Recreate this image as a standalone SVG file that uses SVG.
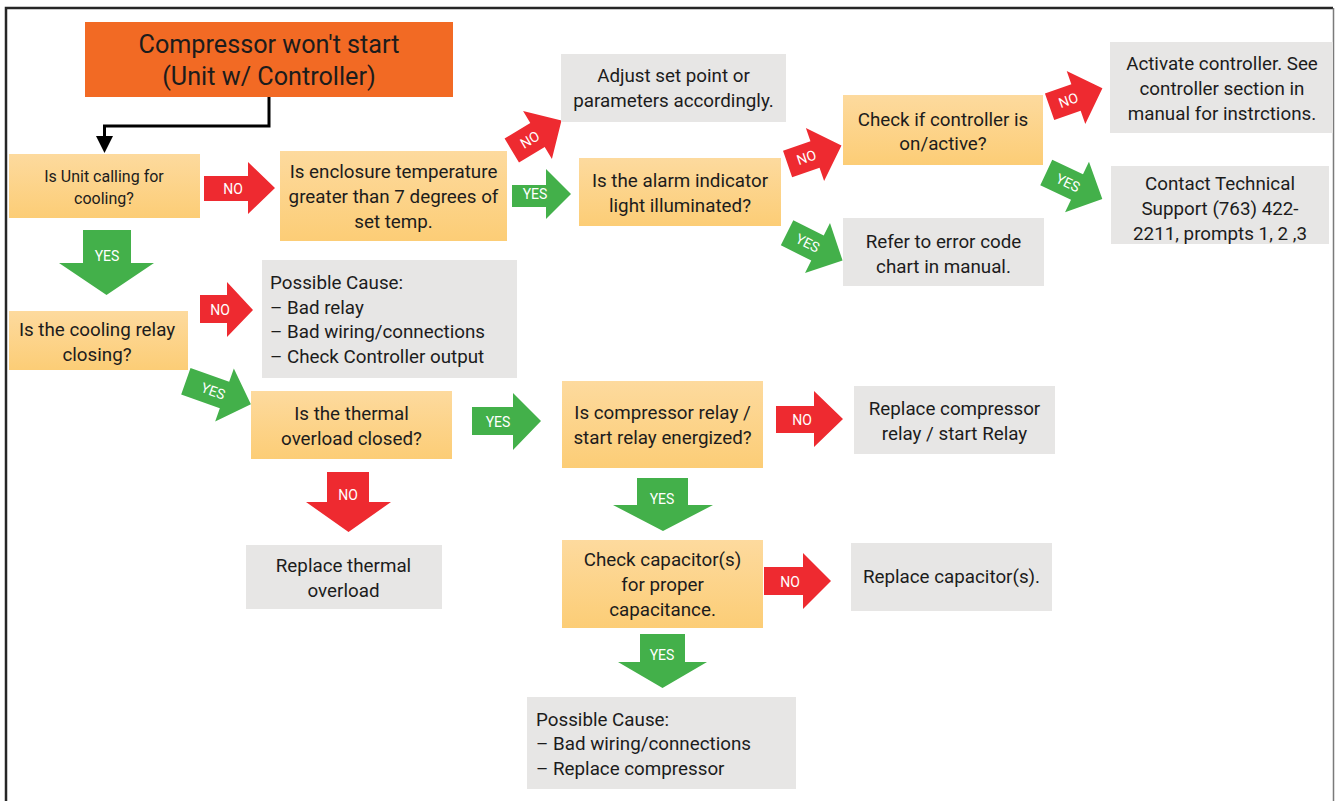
<svg xmlns="http://www.w3.org/2000/svg" width="1335" height="801" viewBox="0 0 1335 801">
<defs>
<linearGradient id="og" x1="0" y1="0" x2="0" y2="1">
<stop offset="0" stop-color="#FDDA9E"/>
<stop offset="1" stop-color="#FCCD76"/>
</linearGradient>
</defs>
<style>
text{font-family:Roboto,"Liberation Sans",sans-serif;fill:#1c1c1c}
.t{font-size:18.8px;text-anchor:middle}
.tl{font-size:18.8px;text-anchor:start}
.ts{font-size:16px;text-anchor:middle}
.title{font-size:25.2px;text-anchor:middle}
.q{fill:url(#og)}
.g{fill:#E7E6E5}
.red{fill:#EE2A30}
.grn{fill:#43B04A}
.lb{font-size:14px;fill:#ffffff;text-anchor:middle}
.conn{fill:none;stroke:#000;stroke-width:3}
</style>
<rect width="1335" height="801" fill="#fff"/>
<path d="M6,801 V8 H1333" fill="none" stroke="#262626" stroke-width="2.5"/>
<path d="M1333.5,8 V801" fill="none" stroke="#7a7a7a" stroke-width="1.5"/>

<g id="connectors">
<polyline class="conn" points="269,97 269,126 104.5,126 104.5,137"/>
<polygon points="96,136 113,136 104.5,153" fill="#000"/>
<g id="a1"><polygon class="red" points="204,176 248,176 248,162 275,188 248,214 248,201 204,201"/><text class="lb" x="233" y="194">NO</text></g>
<g id="a2"><polygon class="grn" points="512,185 546,185 546,169 571,194 546,219 546,207 512,207"/><text class="lb" x="535" y="199">YES</text></g>
<g id="a3"><polygon class="grn" points="83,230 131,230 131,263 154,263 106.5,295 59,263 83,263"/><text class="lb" x="107" y="261">YES</text></g>
<g id="a4"><polygon class="red" points="200,295 227,295 227,282 253,310 227,337 227,323 200,323"/><text class="lb" x="220" y="315">NO</text></g>
<g id="a5"><polygon class="grn" points="472,407 513,407 513,393 541,421 513,450 513,435 472,435"/><text class="lb" x="498" y="427">YES</text></g>
<g id="a6"><polygon class="red" points="776,406 814,406 814,391 843,419 814,447 814,433 776,433"/><text class="lb" x="802" y="425">NO</text></g>
<g id="a7"><polygon class="grn" points="637,478 688,478 688,505 713,505 663,531 613,505 637,505"/><text class="lb" x="662" y="504">YES</text></g>
<g id="a8"><polygon class="red" points="764,567 803,567 803,553 831,581 803,609 803,595 764,595"/><text class="lb" x="790" y="587">NO</text></g>
<g id="a9"><polygon class="red" points="327,472 369,472 369,502 391,502 348.5,532 306,502 327,502"/><text class="lb" x="348" y="500">NO</text></g>
<g id="a10"><polygon class="grn" points="640,634 685,634 685,662 707,662 662.5,688 618,662 640,662"/><text class="lb" x="662" y="660">YES</text></g>
<g id="d1" transform="translate(537.5,135) rotate(-31)"><path class="red" d="M-30,-14 H0 V-28 L28,0 L0,28 V14 H-30 Z"/><text class="lb" x="-9" y="5">NO</text></g>
<g id="d2" transform="translate(815,154.5) rotate(-19)"><path class="red" d="M-29,-14 H0 V-28 L28,0 L0,28 V14 H-29 Z"/><text class="lb" x="-9" y="5">NO</text></g>
<g id="d3" transform="translate(817.5,248) rotate(26.5)"><path class="grn" d="M-34,-14 H0 V-28 L28,0 L0,28 V14 H-34 Z"/><text class="lb" x="-11" y="5">YES</text></g>
<g id="d4" transform="translate(1076,97.5) rotate(-19.4)"><path class="red" d="M-28,-14 H0 V-28 L28,0 L0,28 V14 H-28 Z"/><text class="lb" x="-8" y="5">NO</text></g>
<g id="d5" transform="translate(1077,187) rotate(25.3)"><path class="grn" d="M-34,-14 H0 V-28 L28,0 L0,28 V14 H-34 Z"/><text class="lb" x="-10" y="5">YES</text></g>
<g id="d6" transform="translate(224.5,395) rotate(19.5)"><path class="grn" d="M-41,-14 H0 V-28 L28,0 L0,28 V14 H-41 Z"/><text class="lb" x="-12" y="5">YES</text></g>
</g>

<g id="n-start"><rect x="85" y="22" width="368" height="75" fill="#F26A24"/><text class="title" x="269" y="53">Compressor won't start</text><text class="title" x="269" y="85">(Unit w/ Controller)</text></g>
<g id="n-calling"><rect class="q" x="9" y="154" width="191" height="64"/><text class="ts" x="104" y="182">Is Unit calling for</text><text class="ts" x="104" y="204">cooling?</text></g>
<g id="n-enclosure"><rect class="q" x="280" y="151" width="227" height="90"/><text class="t" x="393.5" y="178">Is enclosure temperature</text><text class="t" x="393.5" y="203">greater than 7 degrees of</text><text class="t" x="393.5" y="228">set temp.</text></g>
<g id="n-adjust"><rect class="g" x="561" y="54" width="225" height="68"/><text class="t" x="673.5" y="82">Adjust set point or</text><text class="t" x="673.5" y="107">parameters accordingly.</text></g>
<g id="n-alarm"><rect class="q" x="579" y="158" width="202" height="68"/><text class="t" x="680" y="187">Is the alarm indicator</text><text class="t" x="680" y="212">light illuminated?</text></g>
<g id="n-check"><rect class="q" x="843" y="95" width="200" height="70"/><text class="t" x="943" y="126">Check if controller is</text><text class="t" x="943" y="150">on/active?</text></g>
<g id="n-activate"><rect class="g" x="1110" y="42" width="223" height="91"/><text class="t" x="1222" y="70">Activate controller. See</text><text class="t" x="1222" y="95">controller section in</text><text class="t" x="1222" y="120">manual for instrctions.</text></g>
<g id="n-contact"><rect class="g" x="1111" y="166" width="218" height="78"/><text class="t" x="1220" y="190">Contact Technical</text><text class="t" x="1220" y="215">Support (763) 422-</text><text class="t" x="1220" y="240">2211, prompts 1, 2 ,3</text></g>
<g id="n-refer"><rect class="g" x="843" y="218" width="201" height="68"/><text class="t" x="943.5" y="248">Refer to error code</text><text class="t" x="943.5" y="273">chart in manual.</text></g>
<g id="n-relay"><rect class="q" x="9" y="311" width="179" height="59"/><text class="t" x="97" y="336">Is the cooling relay</text><text class="t" x="97" y="361">closing?</text></g>
<g id="n-cause1"><rect class="g" x="262" y="260" width="255" height="118"/><text class="tl" x="270" y="289">Possible Cause:</text><text class="tl" x="270" y="314">– Bad relay</text><text class="tl" x="270" y="338">– Bad wiring/connections</text><text class="tl" x="270" y="363">– Check Controller output</text></g>
<g id="n-thermal"><rect class="q" x="251" y="391" width="201" height="68"/><text class="t" x="351.5" y="420">Is the thermal</text><text class="t" x="351.5" y="445">overload closed?</text></g>
<g id="n-comprelay"><rect class="q" x="562" y="381" width="201" height="87"/><text class="t" x="662.5" y="419">Is compressor relay /</text><text class="t" x="662.5" y="444">start relay energized?</text></g>
<g id="n-replrelay"><rect class="g" x="854" y="386" width="201" height="68"/><text class="t" x="954.5" y="415">Replace compressor</text><text class="t" x="954.5" y="440">relay / start Relay</text></g>
<g id="n-replthermal"><rect class="g" x="246" y="545" width="196" height="64"/><text class="t" x="343.5" y="572">Replace thermal</text><text class="t" x="343.5" y="597">overload</text></g>
<g id="n-cap"><rect class="q" x="562" y="540" width="201" height="88"/><text class="t" x="662.5" y="566">Check capacitor(s)</text><text class="t" x="662.5" y="591">for proper</text><text class="t" x="662.5" y="616">capacitance.</text></g>
<g id="n-replcap"><rect class="g" x="851" y="543" width="201" height="68"/><text class="t" x="951.5" y="583">Replace capacitor(s).</text></g>
<g id="n-cause2"><rect class="g" x="527" y="697" width="269" height="92"/><text class="tl" x="536" y="726">Possible Cause:</text><text class="tl" x="536" y="750">– Bad wiring/connections</text><text class="tl" x="536" y="775">– Replace compressor</text></g>
</svg>
